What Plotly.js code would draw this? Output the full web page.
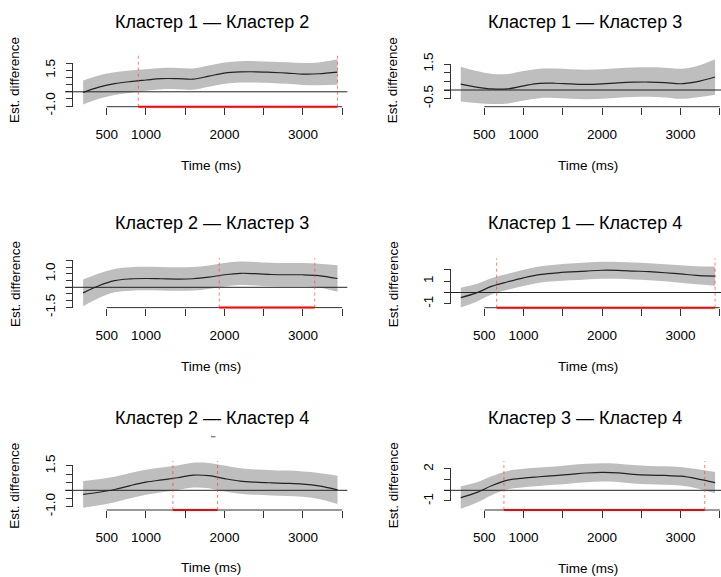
<!DOCTYPE html>
<html><head><meta charset="utf-8">
<script src="https://cdn.plot.ly/plotly-3.0.1.min.js"></script>
<style>html,body{margin:0;padding:0;background:#fff}#chart{width:721px;height:577px}</style>
</head><body><div id="chart"></div>
<script>
// ---------------- data ----------------
const time = [200,400,600,800,1000,1200,1400,1600,1800,2000,2200,2400,2600,2800,3000,3200,3440];

const titles = ["Кластер 1 — Кластер 2","Кластер 1 — Кластер 3","Кластер 2 — Кластер 3",
                "Кластер 1 — Кластер 4","Кластер 2 — Кластер 4","Кластер 3 — Кластер 4"];

const est12 = [-0.05,0.33,0.57,0.72,0.83,0.93,0.93,0.89,1.10,1.32,1.40,1.41,1.37,1.32,1.25,1.27,1.39];
const ci12  = [0.85,0.82,0.80,0.78,0.76,0.75,0.75,0.75,0.75,0.75,0.75,0.75,0.75,0.76,0.77,0.80,0.90];

const est13 = [0.34,0.17,0.06,0.07,0.24,0.38,0.39,0.35,0.32,0.35,0.41,0.45,0.46,0.43,0.36,0.47,0.75];
const ci13  = [1.00,0.92,0.87,0.85,0.85,0.85,0.85,0.85,0.85,0.85,0.85,0.85,0.85,0.86,0.87,0.90,1.02];

const est23 = [-0.42,0.12,0.50,0.63,0.66,0.64,0.62,0.64,0.76,0.94,1.05,1.02,0.96,0.94,0.94,0.88,0.66];
const ci23  = [1.00,0.92,0.88,0.88,0.88,0.88,0.88,0.88,0.88,0.88,0.88,0.88,0.88,0.88,0.88,0.89,1.00];

const est14 = [-0.45,-0.03,0.56,0.95,1.30,1.58,1.72,1.82,1.90,1.97,1.96,1.90,1.84,1.75,1.64,1.52,1.45];
const ci14  = [0.88,0.78,0.72,0.70,0.72,0.72,0.73,0.74,0.75,0.75,0.75,0.75,0.75,0.76,0.78,0.80,0.85];

const est24 = [-0.25,-0.12,0.05,0.29,0.50,0.64,0.77,0.93,0.90,0.72,0.57,0.50,0.46,0.43,0.38,0.27,0.03];
const ci24  = [0.82,0.80,0.78,0.78,0.77,0.76,0.75,0.76,0.78,0.80,0.78,0.78,0.78,0.78,0.78,0.80,0.87];

const est34 = [-0.68,-0.22,0.45,0.95,1.15,1.27,1.38,1.50,1.62,1.68,1.64,1.50,1.42,1.39,1.32,1.10,0.72];
const ci34  = [1.05,0.95,0.88,0.86,0.86,0.86,0.86,0.86,0.86,0.86,0.86,0.86,0.86,0.86,0.87,0.90,1.00];

// significant intervals (ms)
const sig12 = [[903,3440]];
const sig13 = [];
const sig23 = [[1934,3150]];
const sig14 = [[657,3440]];
const sig24 = [[1343,1912]];
const sig34 = [[750,3308]];

const xTickVals = [500,1000,1500,2000,2500,3000,3500];
const xTickText = ["500","1000","","2000","","3000",""];

const yTicks12 = [-1,-0.5,0,0.5,1,1.5,2];      const yText12 = ["-1.0","","","","","1.5",""];
const yTicks13 = [-0.5,0,0.5,1,1.5];           const yText13 = ["-0.5","","","","1.5"];
const yTicks23 = [-1.5,-1,-0.5,0,0.5,1,1.5,2]; const yText23 = ["-1.5","","","","","1.0","",""];
const yTicks14 = [-1,0,1,2];                   const yText14 = ["-1","","1",""];
const yTicks24 = [-1,-0.5,0,0.5,1,1.5];        const yText24 = ["-1.0","","","","","1.5"];
const yTicks34 = [-1,0,1,2];                   const yText34 = ["-1","","","2"];

const xLabel = "Time (ms)";
const yLabel = "Est. difference";

// ---------------- layout geometry (pixels) ----------------
const W = 721, H = 577;
const pxPerMs = 0.0785;
const FONT = "Liberation Sans, Arial, Helvetica, sans-serif";
const geom = [
  {xd:[65,347.3], x500:106.7, yax:72.5,  yd:[55,106.7],    y0px:91.8,  ppu:14.2,  tt:[211.7,21.7],  xl:[210.7,165],   yl:[15,80]},
  {xd:[444,721],  x500:484.3, yax:450.5, yd:[55,106.7],    y0px:90.0,  ppu:17.33, tt:[585,21.7],    xl:[588.3,165],   yl:[393.3,80]},
  {xd:[65,347.3], x500:106.7, yax:72.5,  yd:[258.3,307.6], y0px:287.3, ppu:13.33, tt:[211.7,223.3], xl:[210.7,366.3], yl:[15,284]},
  {xd:[444,721],  x500:484.3, yax:450.5, yd:[258.3,307.7], y0px:292.5, ppu:11.3,  tt:[585,223.3],   xl:[588.3,366.7], yl:[393.3,284]},
  {xd:[65,347.3], x500:106.7, yax:72.5,  yd:[461,510],     y0px:490.3, ppu:16.27, tt:[211.7,418.3], xl:[210.7,567.7], yl:[15,485.7]},
  {xd:[444,721],  x500:484.3, yax:450.5, yd:[461,510],     y0px:490.3, ppu:10.67, tt:[585,418.3],   xl:[588.3,568],   yl:[393.3,485]}
];

const panels = [
  {est:est12, ci:ci12, sig:sig12, yt:yTicks12, ytx:yText12},
  {est:est13, ci:ci13, sig:sig13, yt:yTicks13, ytx:yText13},
  {est:est23, ci:ci23, sig:sig23, yt:yTicks23, ytx:yText23},
  {est:est14, ci:ci14, sig:sig14, yt:yTicks14, ytx:yText14},
  {est:est24, ci:ci24, sig:sig24, yt:yTicks24, ytx:yText24},
  {est:est34, ci:ci34, sig:sig34, yt:yTicks34, ytx:yText34}
];

const fx = px => px / W;
const fy = py => 1 - py / H;

const traces = [];
const layout = {
  width: W, height: H,
  margin: {l:0, r:0, t:0, b:0, pad:0},
  paper_bgcolor: '#fff', plot_bgcolor: 'rgba(0,0,0,0)',
  showlegend: false,
  font: {family: FONT, color: '#000', size: 13},
  shapes: [], annotations: []
};

panels.forEach((p, i) => {
  const n = i + 1;
  const g = geom[i];
  const xa = 'x' + n, ya = 'y' + n;
  const xkey = 'xaxis' + n, ykey = 'yaxis' + n;
  const lower = p.est.map((v, k) => v - p.ci[k]);
  const upper = p.est.map((v, k) => v + p.ci[k]);

  traces.push({x: time, y: lower, xaxis: xa, yaxis: ya, mode: 'lines',
    line: {width: 0, shape: 'spline', smoothing: 1}, hoverinfo: 'skip'});
  traces.push({x: time, y: upper, xaxis: xa, yaxis: ya, mode: 'lines', fill: 'tonexty',
    fillcolor: 'rgb(190,190,190)', line: {width: 0, shape: 'spline', smoothing: 1}, hoverinfo: 'skip'});
  traces.push({x: time, y: p.est, xaxis: xa, yaxis: ya, mode: 'lines',
    line: {color: '#222', width: 1.2, shape: 'spline', smoothing: 1}, hoverinfo: 'skip'});

  const xr = [500 + (g.xd[0] - g.x500) / pxPerMs, 500 + (g.xd[1] - g.x500) / pxPerMs];
  const yr = [(g.y0px - g.yd[1]) / g.ppu, (g.y0px - g.yd[0]) / g.ppu];

  layout[xkey] = {
    domain: [fx(g.xd[0]), fx(g.xd[1])], range: xr, anchor: ya,
    tickmode: 'array', tickvals: xTickVals, ticktext: xTickText,
    ticks: 'outside', ticklen: 7, tickwidth: 1, tickcolor: '#333',
    showline: false, showgrid: false, zeroline: false,
    tickfont: {family: FONT, size: 13.5, color: '#000'}, ticklabelstandoff: 8
  };
  layout[ykey] = {
    domain: [fy(g.yd[1]), fy(g.yd[0])], range: yr, anchor: 'free', position: fx(g.yax),
    tickmode: 'array', tickvals: p.yt, ticktext: p.ytx, tickangle: -90,
    ticks: 'outside', ticklen: 7, tickwidth: 1, tickcolor: '#333',
    showline: false, showgrid: false, zeroline: false,
    tickfont: {family: FONT, size: 13.5, color: '#000'}, ticklabelstandoff: 5
  };

  // zero reference line
  layout.shapes.push({type:'line', xref: xa + ' domain', x0: 0, x1: 1, yref: ya, y0: 0, y1: 0,
    line: {color: '#222', width: 1}});
  // x axis line
  layout.shapes.push({type:'line', xref: xa, x0: xTickVals[0], x1: xTickVals[xTickVals.length-1],
    yref: ya + ' domain', y0: 0, y1: 0, line: {color: '#333', width: 1}});
  // y axis line
  layout.shapes.push({type:'line', xref: 'paper', x0: fx(g.yax), x1: fx(g.yax),
    yref: ya, y0: p.yt[0], y1: p.yt[p.yt.length-1], line: {color: '#333', width: 1}});
  // significance
  p.sig.forEach(s => {
    s.forEach(v => layout.shapes.push({type:'line', xref: xa, x0: v, x1: v, yref: ya + ' domain',
      y0: 0, y1: 1, line: {color: 'rgba(255,60,60,0.85)', width: 0.8, dash: 'dot'}}));
    layout.shapes.push({type:'line', xref: xa, x0: s[0], x1: s[1], yref: ya + ' domain',
      y0: 0, y1: 0, line: {color: 'rgb(255,0,0)', width: 2}});
  });

  layout.annotations.push({text: titles[i], xref:'paper', yref:'paper', x: fx(g.tt[0]), y: fy(g.tt[1]),
    xanchor:'center', yanchor:'middle', showarrow:false, font:{family: FONT, size: 18, color:'#000'}});
  layout.annotations.push({text: xLabel, xref:'paper', yref:'paper', x: fx(g.xl[0]), y: fy(g.xl[1]),
    xanchor:'center', yanchor:'middle', showarrow:false, font:{family: FONT, size: 13.5, color:'#000'}});
  layout.annotations.push({text: yLabel, xref:'paper', yref:'paper', x: fx(g.yl[0]), y: fy(g.yl[1]),
    xanchor:'center', yanchor:'middle', showarrow:false, textangle: -90,
    font:{family: FONT, size: 13.5, color:'#000'}});
});

// small grey mark under the fifth title (present in the original image)
layout.shapes.push({type:'line', xref:'paper', yref:'paper', x0: fx(211), x1: fx(215.5),
  y0: fy(436.7), y1: fy(436.7), line:{color:'#888', width:1.5}});

Plotly.newPlot('chart', traces, layout, {staticPlot: true, displayModeBar: false});
</script>
</body></html>
